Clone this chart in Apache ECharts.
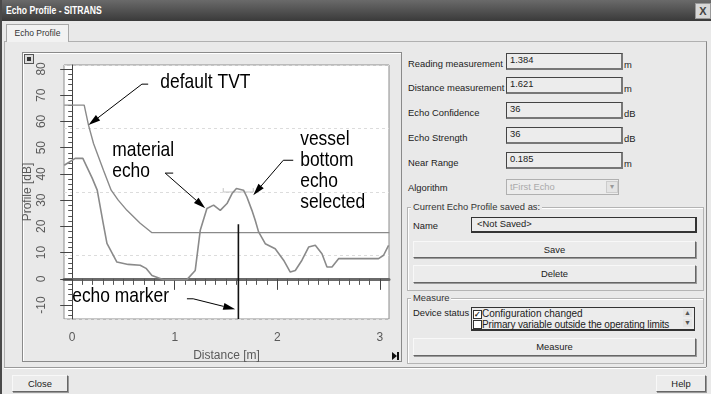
<!DOCTYPE html>
<html>
<head>
<meta charset="utf-8">
<script src="https://cdn.jsdelivr.net/npm/echarts@6/dist/echarts.min.js"></script>
<style>
body{margin:0;width:711px;height:394px;overflow:hidden;background:#e9e9e9;font-family:"Liberation Sans",Arial,sans-serif;font-size:9.4px;color:#222;position:relative}
.a{position:absolute}
#titlebar{left:0;top:0;width:711px;height:21px;background:linear-gradient(#6a6a6a,#3a3a3a)}
#titletxt{left:6px;top:4px;color:#fff;font-weight:bold;font-size:10.5px;transform:scaleX(0.82);transform-origin:0 0;white-space:nowrap}
#xbtn{left:695px;top:3px;width:14px;height:14px;background:#d8d8d8;border:1px solid #999;color:#444;font-size:11px;line-height:14px;text-align:center;font-weight:bold}
#lborder{left:0;top:0;width:2px;height:394px;background:#4a4a4a}
#tab{left:6px;top:24px;width:61px;height:17px;background:#f2f2f2;border:1px solid #a8a8a8;border-bottom:none;font-size:8.5px;line-height:16px;text-align:center;color:#333}
#panel{left:4px;top:41px;width:701px;height:325px;border:1px solid #b0b0b0;border-right-color:#888;border-bottom:none}
#frame{left:22px;top:52px;width:378px;height:308px;border:1px solid #8a8a8a;box-shadow:inset 1px 1px 0 #fff}
#mini{left:24px;top:54px;width:8px;height:8px;border:1px solid #555;background:#dcdcdc}
#mini:after{content:"";position:absolute;left:2px;top:2px;width:4px;height:4px;background:#333}
.lbl{left:408px;color:#222;white-space:nowrap}
.box{left:506px;width:111px;height:14px;border:1px solid #444;border-width:1px 2px 2px 1px;border-right-color:#777;border-bottom-color:#777;background:#ececec;padding-left:3px;line-height:11px;color:#222;box-sizing:content-box}
.unit{left:624px}
.btn{border:1px solid #f8f8f8;border-right-color:#666;border-bottom-color:#666;background:#ececec;text-align:center;color:#222;box-shadow:1px 1px 0 #999}
.grp{border:1px solid #b4b4b4;box-shadow:inset 1px 1px 0 #fff}
.leg{background:#e9e9e9;padding:0 2px;color:#333;white-space:nowrap}
.sb{left:683px;width:9px;height:8px;font-size:7px;line-height:8px;text-align:center;color:#555;background:#e4e4e4}
#chart{left:0;top:0;width:711px;height:394px}
</style>
</head>
<body>
<div class="a" id="titlebar"></div>
<div class="a" id="titletxt">Echo Profile - SITRANS</div>
<div class="a" id="xbtn">X</div>
<div class="a" id="lborder"></div>
<div class="a" id="panel"></div>
<div class="a" id="tab">Echo Profile</div>
<div class="a" id="frame"></div>
<div class="a" id="mini"></div>

<div class="a lbl" style="top:58px">Reading measurement</div>
<div class="a box" style="top:53px">1.384</div>
<div class="a unit" style="top:59px">m</div>
<div class="a lbl" style="top:82px">Distance measurement</div>
<div class="a box" style="top:77px">1.621</div>
<div class="a unit" style="top:83px">m</div>
<div class="a lbl" style="top:107px">Echo Confidence</div>
<div class="a box" style="top:102px">36</div>
<div class="a unit" style="top:108px">dB</div>
<div class="a lbl" style="top:132px">Echo Strength</div>
<div class="a box" style="top:127px">36</div>
<div class="a unit" style="top:133px">dB</div>
<div class="a lbl" style="top:157px">Near Range</div>
<div class="a box" style="top:152px">0.185</div>
<div class="a unit" style="top:158px">m</div>
<div class="a lbl" style="top:182px">Algorithm</div>
<div class="a" style="left:506px;top:179px;width:108px;height:14px;border:1px solid #b0b0b0;background:#ececec;color:#aaa;line-height:13px;padding-left:3px">tFirst Echo</div>
<div class="a" style="left:606px;top:181px;width:10px;height:10px;border:1px solid #ccc;background:#e4e4e4;color:#999;font-size:8px;line-height:10px;text-align:center">&#9662;</div>

<div class="a grp" style="left:407px;top:207px;width:295px;height:82px"></div>
<div class="a leg" style="left:411px;top:201px">Current Echo Profile saved as:</div>
<div class="a lbl" style="left:413px;top:220px">Name</div>
<div class="a" style="left:471px;top:217px;width:218px;height:13px;border:1px solid #333;border-width:1px 2px 2px 1px;background:#ececec;padding-left:5px;line-height:11px">&lt;Not Saved&gt;</div>
<div class="a btn" style="left:413px;top:241px;width:281px;height:15px;line-height:15px">Save</div>
<div class="a btn" style="left:413px;top:265px;width:281px;height:16px;line-height:16px">Delete</div>

<div class="a grp" style="left:407px;top:298px;width:295px;height:64px"></div>
<div class="a leg" style="left:411px;top:292px">Measure</div>
<div class="a lbl" style="left:413px;top:307px">Device status</div>
<div class="a" style="left:471px;top:307px;width:222px;height:21px;border:1px solid #333;border-width:1px 1px 2px 1px;background:#ececec"></div>
<div class="a" style="left:473px;top:310px;width:7px;height:7px;border:1px solid #333;background:#fff;font-size:8px;line-height:7px;text-align:center;font-weight:bold">&#10003;</div>
<div class="a" style="left:482px;top:308px;font-size:10px;white-space:nowrap">Configuration changed</div>
<div class="a" style="left:473px;top:320px;width:7px;height:7px;border:1px solid #333;background:#fff"></div>
<div class="a" style="left:482px;top:318.5px;font-size:10px;white-space:nowrap;letter-spacing:-0.15px">Primary variable outside the operating limits</div>
<div class="a sb" style="top:309px">&#9650;</div>
<div class="a sb" style="top:319px">&#9660;</div>
<div class="a btn" style="left:413px;top:338px;width:281px;height:16px;line-height:16px">Measure</div>

<div class="a" style="left:392px;top:352px;width:0;height:0;border-left:5px solid #111;border-top:4px solid transparent;border-bottom:4px solid transparent"></div>
<div class="a" style="left:397px;top:352px;width:2px;height:8px;background:#111"></div>

<div class="a" style="left:4px;top:367px;width:702px;height:0;border-top:1px solid #9a9a9a;border-bottom:1px solid #fff"></div>
<div class="a btn" style="left:12px;top:375px;width:54px;height:15px;line-height:15px">Close</div>
<div class="a btn" style="left:656px;top:375px;width:48px;height:15px;line-height:15px">Help</div>

<div class="a" id="chart"></div>
<script>
// echo profile (distance m / dB)
const echoDist = [-0.078, 0.029, 0.104, 0.143, 0.195, 0.244, 0.302, 0.339, 0.436, 0.546, 0.663, 0.72, 0.778, 0.891, 1.119, 1.2, 1.249, 1.314, 1.379, 1.444, 1.51, 1.559, 1.602, 1.671, 1.704, 1.753, 1.785, 1.818, 1.883, 1.98, 2.062, 2.127, 2.176, 2.241, 2.306, 2.371, 2.436, 2.485, 2.534, 2.598, 2.988, 3.037, 3.086];
const echoDb = [43.3, 45.9, 45.9, 42.7, 38.4, 33.8, 21.2, 13.5, 6.4, 5.5, 5.2, 4.0, 1.3, -0.3, -0.3, 3.2, 18.5, 26.8, 28.1, 26.1, 28.7, 32.5, 34.4, 33.8, 31.2, 26.1, 22.3, 17.9, 13.4, 11.5, 7.1, 2.6, 3.2, 7.1, 12.1, 12.8, 9.6, 4.5, 4.5, 7.7, 7.7, 9.0, 12.8];
// default TVT
const tvtDist = [-0.078, 0.117, 0.159, 0.208, 0.305, 0.38, 0.449, 0.534, 0.663, 0.778, 3.093];
const tvtDb = [66.2, 66.2, 58.6, 51.6, 41.4, 33.8, 30.0, 26.1, 21.2, 17.6, 17.6];
// echo marker / lock window
const markerDist = 1.621;
const markerTop = 20.8;
const windowDist = [1.473, 1.473, 1.766, 1.766];
const windowDb = [34.6, 33.1, 33.1, 34.6];
// ticks
const xMajor = [0, 1, 2, 3];
const yMajor = [-10, 0, 10, 20, 30, 40, 50, 60, 70, 80];
const xMin = -0.08, xMax = 3.09, yMin = -15.3, yMax = 81.5;

const xMinor = [];
for (let i = 0; i <= 30; i++) if (i % 10) xMinor.push(i / 10);
const yMinor = [];
for (let v = -14; v <= 80; v += 2) if (v % 10) yMinor.push(v);

const zip = (a, b) => a.map((v, i) => [v, b[i]]);
const grey = "#8a8a8a";
const lblColor = "#5a5a5a";

const myChart = echarts.init(document.getElementById("chart"), null, { renderer: "canvas" });
const option = {
  animation: false,
  grid: { left: 64, top: 65, width: 325, height: 254, show: true, backgroundColor: "#fff", borderColor: "#8c8c8c", borderWidth: 1 },
  xAxis: [
    {
      type: "value", min: xMin, max: xMax, position: "bottom",
      axisLine: { show: true, lineStyle: { color: "#6a6a6a", width: 3 } },
      axisTick: { show: true, customValues: xMajor, length: 11, lineStyle: { color: "#444" } },
      axisLabel: { customValues: xMajor, color: lblColor, fontSize: 12, margin: 13, fontFamily: "Liberation Sans" },
      splitLine: { show: false },
      name: "Distance [m]", nameLocation: "middle", nameGap: 31,
      nameTextStyle: { color: lblColor, fontSize: 12, fontFamily: "Liberation Sans" },
    },
    {
      type: "value", min: xMin, max: xMax, position: "bottom",
      axisLine: { show: false },
      axisTick: { show: true, customValues: xMinor, length: 6, lineStyle: { color: "#555" } },
      axisLabel: { show: false }, splitLine: { show: false },
    },
  ],
  yAxis: [
    {
      type: "value", min: yMin, max: yMax, position: "left", offset: 2,
      axisLine: { show: true, lineStyle: { color: "#444", width: 1 } },
      axisTick: { show: true, customValues: yMajor, length: 12, lineStyle: { color: "#444" } },
      axisLabel: { customValues: yMajor, rotate: 90, color: lblColor, fontSize: 12, margin: 14, fontFamily: "Liberation Sans" },
      splitLine: { show: false },
      name: "Profile [dB]", nameLocation: "middle", nameRotate: 90, nameGap: 28,
      nameTextStyle: { color: lblColor, fontSize: 12, fontFamily: "Liberation Sans" },
    },
    {
      type: "value", min: yMin, max: yMax, position: "left", offset: 2,
      axisLine: { show: false },
      axisTick: { show: true, customValues: yMinor, length: 4, lineStyle: { color: "#555" } },
      axisLabel: { show: false }, splitLine: { show: false },
    },
    {
      type: "value", min: 0, max: 4, interval: 1, position: "right",
      axisLine: { show: false }, axisTick: { show: false }, axisLabel: { show: false },
      splitLine: { show: true, lineStyle: { color: "#dcdcdc", type: [3, 3], width: 1 } },
    },
  ],
  series: [
    { name: "TVT", type: "line", data: zip(tvtDist, tvtDb), showSymbol: false, lineStyle: { color: grey, width: 1.4 }, z: 3 },
    { name: "Echo", type: "line", data: zip(echoDist, echoDb), showSymbol: false, lineStyle: { color: grey, width: 1.6 }, z: 3 },
    { name: "Window", type: "line", data: zip(windowDist, windowDb), showSymbol: false, lineStyle: { color: "#c4c4c4", width: 1 }, z: 2 },
    { name: "Marker", type: "line", data: [[markerDist, markerTop], [markerDist, yMin]], showSymbol: false, lineStyle: { color: "#111", width: 1.6 }, z: 4 },
  ],
};
myChart.setOption(option);

// annotations: text anchor, leader (elbow start, elbow end, tip) in data coords
const notes = [
  { text: "default TVT", at: [0.86, 75.0], path: [[0.741, 74.2], [0.68, 74.2], [0.159, 58.6]] },
  { text: "material\necho", at: [0.39, 45.0], path: [[0.985, 40.3], [0.907, 40.3], [1.298, 26.9]] },
  { text: "vessel\nbottom\necho\nselected", at: [2.224, 41.2], path: [[2.156, 45.2], [2.059, 45.2], [1.766, 31.9]] },
  { text: "echo marker", at: [0.0, -6.7], path: [[1.119, -7.6], [1.18, -7.6], [1.59, -11.6]] },
];
const px = (p) => myChart.convertToPixel({ xAxisIndex: 0, yAxisIndex: 0 }, p);
const g = [];
notes.forEach((n) => {
  const t = px(n.at);
  g.push({
    type: "text", x: t[0], y: t[1], scaleX: 0.83, z: 10,
    style: { text: n.text, x: 0, y: 0, fill: "#000", font: '21px "Liberation Sans",Arial,sans-serif', lineHeight: 21, verticalAlign: "middle", align: "left" },
  });
  const pts = n.path.map(px);
  const tip = pts[2], prev = pts[1];
  const dx = tip[0] - prev[0], dy = tip[1] - prev[1];
  const len = Math.hypot(dx, dy), ux = dx / len, uy = dy / len;
  const hl = 12, hw = 3.5;
  const bx = tip[0] - ux * hl, by = tip[1] - uy * hl;
  g.push({ type: "polyline", z: 10, shape: { points: [pts[0], pts[1], [bx, by]] }, style: { stroke: "#000", lineWidth: 1, fill: null } });
  g.push({ type: "polygon", z: 10, shape: { points: [tip, [bx - uy * hw, by + ux * hw], [bx + uy * hw, by - ux * hw]] }, style: { fill: "#000" } });
});
myChart.setOption({ graphic: g });
</script>
</body>
</html>
